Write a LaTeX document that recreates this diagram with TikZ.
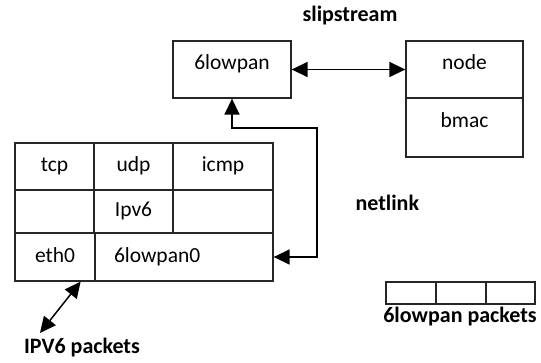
\documentclass[tikz,border=0pt]{standalone}
\usepackage{fontspec}
\setmainfont{Carlito}
\usetikzlibrary{arrows.meta,positioning}

\begin{document}
\begin{tikzpicture}[x=1pt,y=-1pt,font=\fontsize{21.5}{25}\selectfont,box/.style={draw=black!85,line width=1.3pt,inner sep=0pt,text height=14pt,text depth=3pt},tbox/.style={box,text depth=13pt},lbl/.style={font=\fontsize{22}{26}\selectfont\bfseries},arr/.style={line width=1.5pt,{Triangle[length=16pt,width=15pt]}-{Triangle[length=16pt,width=15pt]}}]
\useasboundingbox (0,0) rectangle (541,363);
% top row
\node[lbl] (slip) at (350,16) {slipstream};
\node[tbox,minimum width=118pt,minimum height=57pt] (low) at (232,69.5) {6lowpan};
\node[tbox,minimum width=117pt,minimum height=57pt] (nd) at (464.5,69.5) {node};
\node[tbox,minimum width=117pt,minimum height=59pt] (bmac) at (464.5,127.5) {bmac};
% stack
\node[box,minimum width=79pt,minimum height=47pt] (tcp) at (54.5,166.5) {tcp};
\node[box,minimum width=79pt,minimum height=47pt] (udp) at (133.5,166.5) {udp};
\node[box,minimum width=100pt,minimum height=47pt] (icmp) at (223,166.5) {icmp};
\node[box,minimum width=79pt,minimum height=43pt] (e1) at (54.5,211.5) {};
\node[box,minimum width=79pt,minimum height=43pt] (ip) at (133.5,211.5) {Ipv6};
\node[box,minimum width=100pt,minimum height=43pt] (e2) at (223,211.5) {};
\node[box,minimum width=80pt,minimum height=48pt] (eth) at (55,257) {eth0};
\node[box,minimum width=178pt,minimum height=48pt,text width=140pt,align=left,inner xsep=18pt] (lp0) at (184,257) {6lowpan0};
\node[lbl,anchor=west] (nl) at (352,203) {netlink};
\node[lbl] (ipk) at (82,348) {IPV6 packets};
% packets
\node[box,minimum width=50pt,minimum height=22pt] (p1) at (411,293) {};
\node[box,minimum width=50pt,minimum height=22pt] (p2) at (461,293) {};
\node[box,minimum width=49pt,minimum height=22pt] (p3) at (510.5,293) {};
\node[lbl] (lpk) at (460,317) {6lowpan packets};
% links
\coordinate (c1) at (317,128);
\coordinate (c2) at (40,333);
\draw[arr] (low) -- (nd);
\draw[arr] (low.south) -- (low.south |- c1) -- (c1) -- (c1 |- lp0.east) -- (lp0.east);
\draw[arr] ([xshift=-15pt]eth.south east) -- (c2);
\end{tikzpicture}
\end{document}
